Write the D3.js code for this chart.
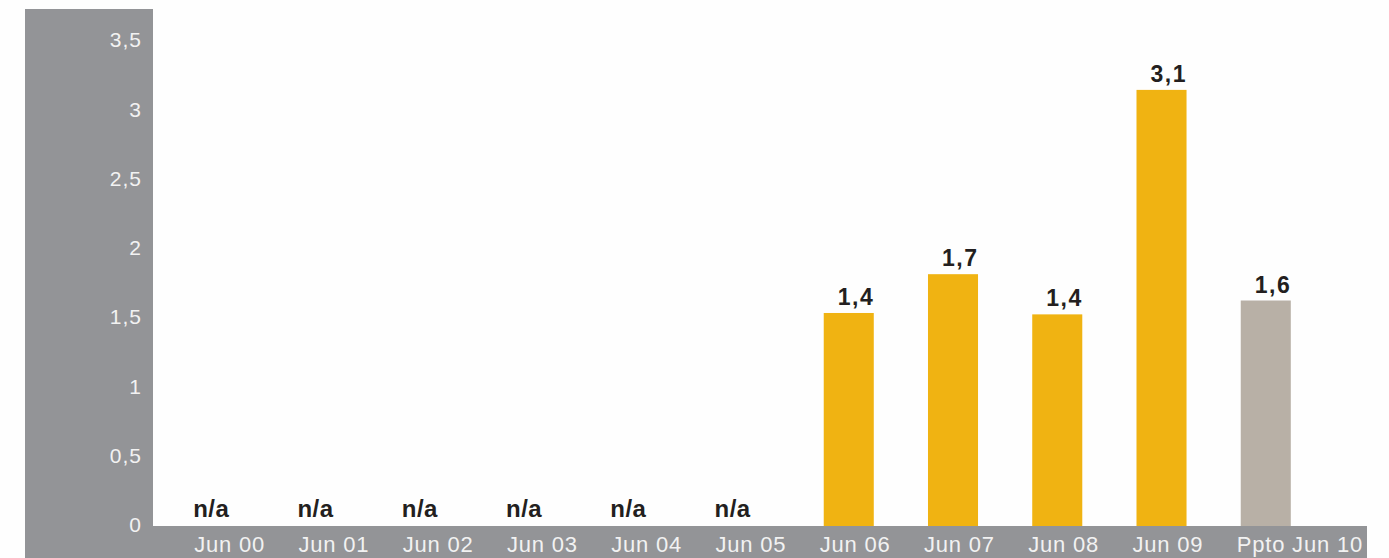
<html lang="en">
  <head>
    <meta charset="UTF-8" />
    <title>Jun bar chart</title>
    <script src="https://d3js.org/d3.v7.min.js"></script>
  </head>
  <style>
    body { margin: 0; background: #fefefe; }
    text { font-family: "Liberation Sans", Arial, sans-serif; }
  </style>
  <body>
    <svg></svg>
    <script>
      var width = 1389;
      var height = 558;

      // data
      var categories = ["Jun 00", "Jun 01", "Jun 02", "Jun 03", "Jun 04", "Jun 05",
                        "Jun 06", "Jun 07", "Jun 08", "Jun 09", "Ppto Jun 10"];
      var values = [null, null, null, null, null, null, 1.53, 1.81, 1.52, 3.14, 1.62];
      var valueLabels = ["n/a", "n/a", "n/a", "n/a", "n/a", "n/a", "1,4", "1,7", "1,4", "3,1", "1,6"];
      var budget = [false, false, false, false, false, false, false, false, false, false, true];
      var yTicks = [0, 0.5, 1, 1.5, 2, 2.5, 3, 3.5];
      var yTickLabels = ["0", "0,5", "1", "1,5", "2", "2,5", "3", "3,5"];

      var svg = d3.select("svg").attr("width", width).attr("height", height);

      var x = d3.scaleBand()
        .domain(categories)
        .range([144, 1345])
        .padding(0.52);

      var y = d3.scaleLinear()
        .domain([0, 3.5])
        .range([525, 40]);

      // grey frame: left panel + bottom band
      svg.append("rect")
        .attr("x", 25).attr("y", 9)
        .attr("width", 128).attr("height", height - 9)
        .style("fill", "#939497");
      svg.append("rect")
        .attr("x", 25).attr("y", y(0) + 1)
        .attr("width", 1342).attr("height", height - y(0))
        .style("fill", "#939497");

      // y axis
      var yAxis = svg.append("g")
        .attr("transform", "translate(142,0)")
        .call(d3.axisLeft(y)
          .tickValues(yTicks)
          .tickSize(0)
          .tickPadding(0)
          .tickFormat((d, i) => yTickLabels[i]));
      yAxis.select(".domain").remove();
      yAxis.selectAll("text")
        .style("font-size", "21px")
        .style("letter-spacing", "1px")
        .attr("fill", "#f2f2f2");

      // x axis labels (left aligned with bars)
      var xAxis = svg.append("g")
        .attr("transform", "translate(0," + (y(0) + 1) + ")")
        .call(d3.axisBottom(x).tickSize(0).tickPadding(0));
      xAxis.select(".domain").remove();
      xAxis.selectAll(".tick text")
        .attr("text-anchor", "start")
        .attr("x", -x.bandwidth() / 2 - 4)
        .attr("y", 26)
        .attr("dy", null)
        .style("font-size", "22px")
        .style("letter-spacing", "0.8px")
        .attr("fill", "#f2f2f2");

      // bars
      svg.append("g")
        .selectAll("rect")
        .data(categories)
        .join("rect")
        .filter((d, i) => values[i] != null)
        .attr("x", (d) => x(d))
        .attr("y", (d) => y(values[categories.indexOf(d)]))
        .attr("width", x.bandwidth())
        .attr("height", (d) => y(0) - y(values[categories.indexOf(d)]) + 1)
        .style("fill", (d) => budget[categories.indexOf(d)] ? "#b8b0a6" : "#f0b312");

      // value labels
      svg.append("g")
        .selectAll("text")
        .data(categories)
        .join("text")
        .attr("x", (d, i) => values[i] == null ? x(d) - 5 : x(d) + 14)
        .attr("y", (d, i) => (values[i] == null ? y(0) : y(values[i])) - 8)
        .style("font-size", (d, i) => values[i] == null ? "24px" : "23px")
        .style("font-weight", "bold")
        .style("letter-spacing", (d, i) => values[i] == null ? "0.5px" : "1.5px")
        .style("fill", "#231f20")
        .text((d, i) => valueLabels[i]);
    </script>
  </body>
</html>
